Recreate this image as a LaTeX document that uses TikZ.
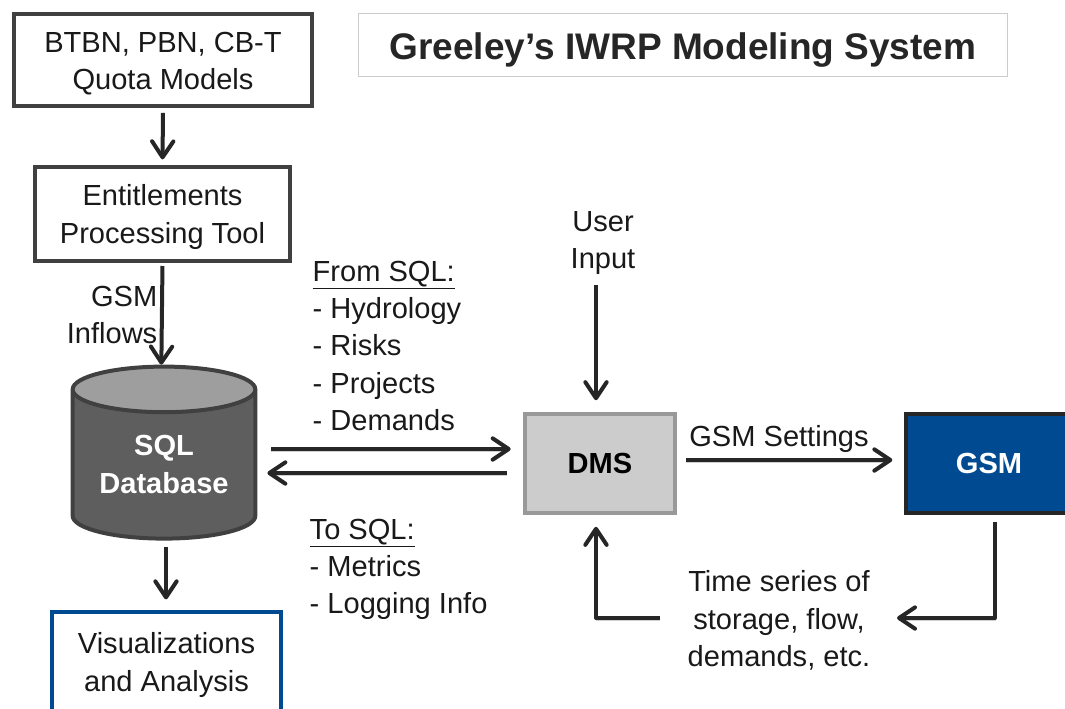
\documentclass[tikz,border=0pt]{standalone}
\usepackage{fontspec}
\usepackage{xcolor}
\setmainfont{Liberation Sans}
\usetikzlibrary{arrows.meta,shapes.geometric}
\definecolor{darkline}{HTML}{404040}
\definecolor{arrowline}{HTML}{262626}
\definecolor{gsmblue}{HTML}{004A91}
\newcommand{\lowered}{\rule{0pt}{20.5pt}}
\begin{document}
\begin{tikzpicture}[x=0.75pt, y=-0.75pt,
    every node/.style={font=\fontsize{21.8}{28.1}\selectfont, text=black!90},
    heavy/.style={font=\fontsize{21.8}{28.1}\selectfont\bfseries},
    boxed/.style={draw=darkline, line width=3.4pt, fill=white, align=center},
    plain/.style={align=left, anchor=north west},
    flow/.style={draw=arrowline, line width=3pt, line join=round, preaction={draw=black!18, transform canvas={yshift=-1.5pt}}, -{Straight Barb[round, length=12pt, width=16pt, line width=3pt]}}]
        \useasboundingbox (0,0) rectangle (1065,708);

        \node[boxed, minimum width=223.5pt, minimum height=69pt] (quota) at (163,60) {\lowered BTBN, PBN, CB-T\\Quota Models};
        \node[draw=black!20, line width=0.75pt, minimum width=487pt, minimum height=47.5pt, font=\fontsize{27.75}{32}\selectfont\bfseries, text=arrowline, text height=27pt, text depth=6pt] (title) at (683,45) {Greeley’s IWRP Modeling System};
        \node[boxed, line width=3pt, minimum width=191.5pt, minimum height=71pt] (entitle) at (162.5,214) {\lowered Entitlements\\Processing Tool};

        \node[heavy, cylinder, shape border rotate=90, aspect=0.33, draw=darkline, line width=3pt, cylinder uses custom fill, cylinder body fill=black!63, cylinder end fill=black!38, minimum width=137pt, minimum height=129pt, align=center, text=white] (sql) at (164,468.5) {SQL\\Database\rule[-6pt]{0pt}{1pt}};
        \node[boxed, draw=gsmblue, line width=3pt, minimum width=172pt, minimum height=75pt] (vis) at (166.5,662) {\lowered Visualizations\\and Analysis};

        \node[heavy, draw=black!40, fill=black!20, line width=3pt, minimum width=113pt, minimum height=74pt, text=black] (dms) at (600,463.5) {DMS};
        \node[heavy, draw=arrowline, fill=gsmblue, line width=3pt, minimum width=124pt, minimum height=74pt, text=white] (gsm) at (989,463.5) {GSM};

        \node[align=center] (input) at (603,243) {User\\Input};
        \node[align=right, anchor=east] (inflows) at (162,315) {GSM\\Inflows};
        \node[plain] (fromsql) at (308,256) {\underline{From SQL:}\\- Hydrology\\- Risks\\- Projects\\- Demands};
        \node[plain] (tosql) at (305,514) {\underline{To SQL:}\\- Metrics\\- Logging Info};
        \node[anchor=south] (settings) at (779,457) {GSM Settings};
        \node[align=center] (series) at (779,620.5) {Time series of\\storage, flow,\\demands, etc.};

        \coordinate (inputtail) at (596,285);
        \coordinate (seriesin) at (897,618);
        \coordinate (seriesout) at (660,618);

        \draw[flow, shorten <=3.5pt, shorten >=4pt] (quota.south) -- (entitle.north);
        \draw[flow, shorten <=2pt] (entitle.south) -- ([xshift=-2pt]sql.north);
        \draw[flow, shorten <=5pt, shorten >=8pt] ([xshift=1.5pt]sql.south) -- ([xshift=1.5pt]sql.south |- vis.north);
        \draw[flow, shorten <=10.5pt, shorten >=9pt] (sql.east |- 0,449) -- (dms.west |- 0,449);
        \draw[flow, shorten <=12pt, shorten >=7.5pt] (dms.west |- 0,473) -- (sql.east |- 0,473);
        \draw[flow, shorten >=9pt] (inputtail) -- (inputtail |- dms.north);
        \draw[flow, shorten <=6.5pt, shorten >=9pt] (dms.east |- 0,460) -- (gsm.west |- 0,460);
        \draw[flow, shorten <=5pt] ([xshift=4.5pt]gsm.south) |- (seriesin);
        \draw[flow, shorten >=9pt] (seriesout) -| ([xshift=-3pt]dms.south);
\end{tikzpicture}
\end{document}
